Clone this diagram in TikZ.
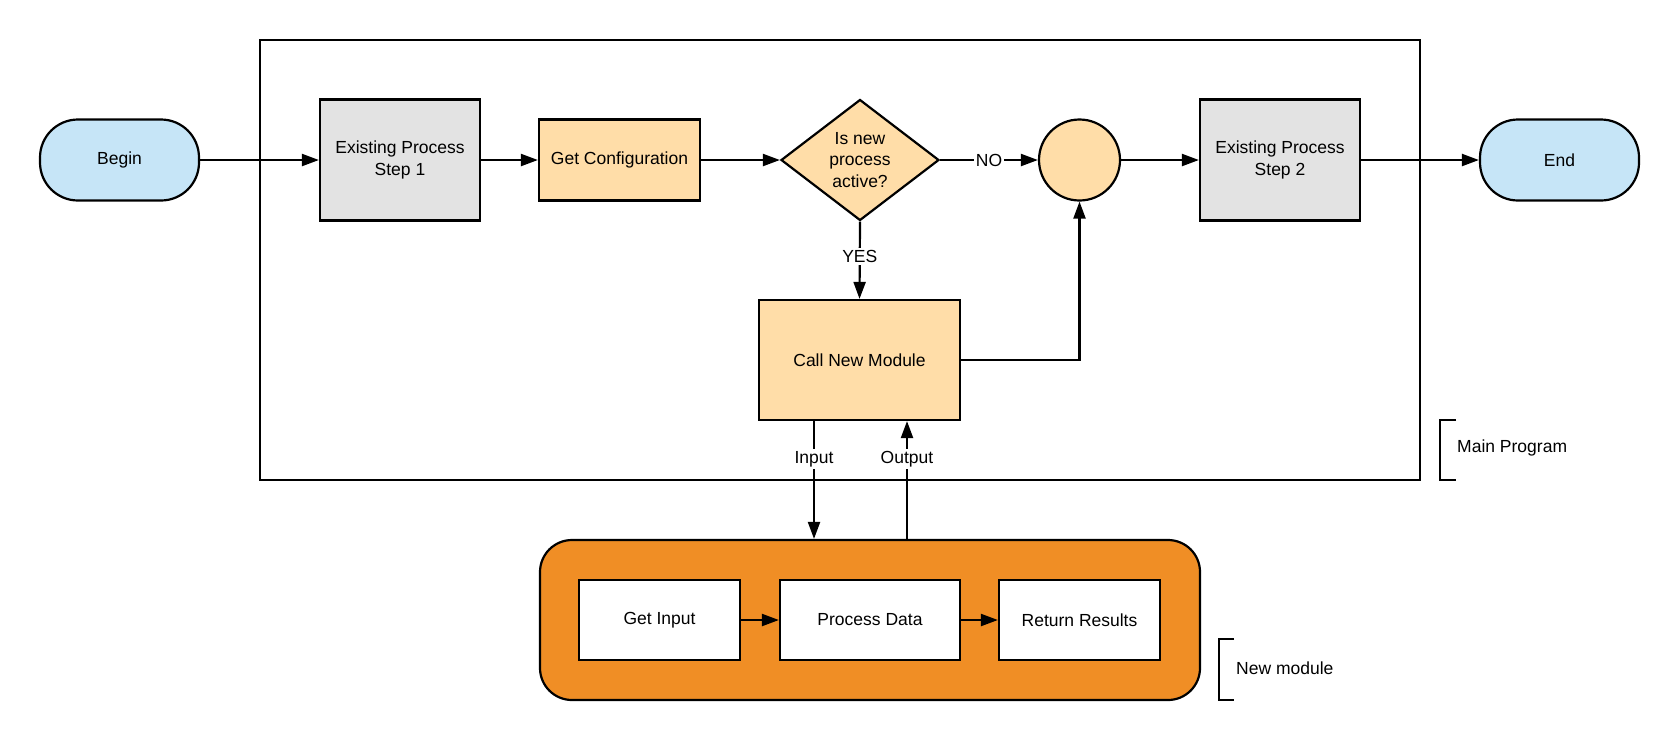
\documentclass[tikz,border=0pt]{standalone}
\usepackage{fontspec}
\setmainfont{Liberation Sans}
\usetikzlibrary{arrows.meta,shapes.geometric}
\definecolor{cblue}{HTML}{C6E5F7}
\definecolor{cgray}{HTML}{E3E3E3}
\definecolor{clight}{HTML}{FFDDA8}
\definecolor{corange}{HTML}{F08E25}
\tikzset{
  every node/.style={font=\fontsize{17.5}{21.5}\selectfont, inner sep=0pt, align=center},
  ln/.style={line width=2.2pt, draw=black},
  arr/.style={ln, -{Triangle[length=17pt,width=12pt]}},
  terminal/.style={ln, fill=cblue, rounded corners=38pt, minimum width=159pt, minimum height=81pt},
  greybox/.style={ln, fill=cgray, minimum width=160pt, minimum height=121pt},
  lightbox/.style={ln, fill=clight},
  whitebox/.style={ln, fill=white, minimum height=80pt},
  lbl/.style={fill=white, inner sep=2pt},
}
\begin{document}
\begin{tikzpicture}[x=1pt,y=-1pt]
\useasboundingbox (0,0) rectangle (1680,740);
% main frame
\draw[ln, line width=2.4pt] (260,40) rectangle (1420,480);
% nodes
\node[terminal] (begin) at (119.5,160) {Begin};
\node[greybox] (step1) at (400,160) {Existing Process\\Step 1};
\node[lightbox, minimum width=161pt, minimum height=81pt] (config) at (619.5,160) {Get Configuration};
\node[lightbox, shape=diamond, minimum width=158pt, minimum height=121pt] (dec) at (860,160) {Is new\\process\\active?};
\node[lightbox, shape=circle, minimum size=81pt] (join) at (1079.5,160) {};
\node[greybox] (step2) at (1280,160) {Existing Process\\Step 2};
\node[terminal] (end) at (1559.5,160) {End};
\node[lightbox, minimum width=201pt, minimum height=120pt] (call) at (859.5,360) {Call New Module};
% module
\node[ln, fill=corange, rounded corners=32pt, minimum width=660pt, minimum height=160pt] (module) at (870,620) {};
\node[whitebox, minimum width=161pt] (getin) at (659.5,620) {Get Input};
\node[whitebox, minimum width=180pt] (proc) at (870,620) {Process Data};
\node[whitebox, minimum width=161pt] (ret) at (1079.5,620) {Return Results};
% brackets
\draw[ln] (1456,420) -- (1440,420) -- (1440,480) -- (1456,480);
\node[anchor=west] (mainlbl) at (1457,448) {Main Program};
\draw[ln] (1234,639) -- (1219,639) -- (1219,700) -- (1234,700);
\node[anchor=west] (modlbl) at (1236,668) {New module};
% connectors
\draw[arr] (begin) -- (step1);
\draw[arr] (step1) -- (config);
\draw[arr] (config) -- (dec.west);
\draw[arr] (dec.east) -- node[lbl] {NO} (join.west);
\draw[arr] (join) -- (step2);
\draw[arr] (step2) -- (end);
\draw[arr] (dec.south) -- node[lbl, pos=0.45] {YES} (call.north);
\draw[arr] (call.east) -| (join.south);
\coordinate (inA) at ([xshift=-45.5pt]call.south);
\coordinate (outA) at ([xshift=47.5pt]call.south);
\draw[arr] (inA) -- node[lbl, pos=0.32] {Input} (inA |- module.north);
\draw[arr] (outA |- module.north) -- node[lbl, pos=0.68] {Output} (outA);
\draw[arr] (getin) -- (proc);
\draw[arr] (proc) -- (ret);
\end{tikzpicture}
\end{document}
